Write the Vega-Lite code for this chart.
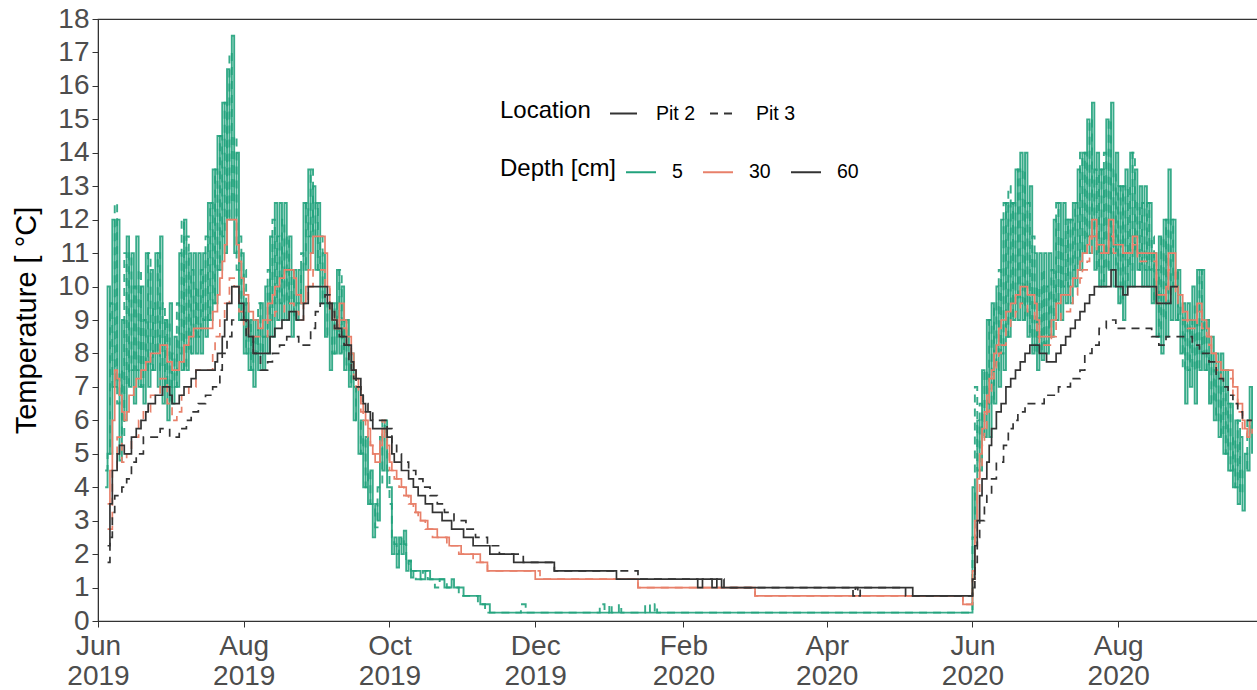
{
"$schema": "https://vega.github.io/schema/vega-lite/v6.json",
"width": 1160, "height": 602,
"autosize": {"type": "none"},
"padding": {"left": 98, "top": 19, "right": 0, "bottom": 69},
"background": "white",
"config": {"font": "Liberation Sans", "view": {"stroke": "#333333", "strokeWidth": 1.2}, "axis": {"grid": false}},
"data": {"values": [
{"date":"2019-06-04","g2":4,"g3":4.5},
{"date":"2019-06-05","g2":10,"g3":5,"r2":3.5,"r3":2.75,"k2":2.25,"k3":1.75},
{"date":"2019-06-06","g2":5,"g3":9.5,"r2":4.5,"k2":3.5,"k3":2.5},
{"date":"2019-06-07","g2":12,"g3":7,"r2":6,"r3":4.5,"k2":4.5,"k3":3.25},
{"date":"2019-06-08","g2":7,"g3":12.5,"r2":7.5,"k3":3.75},
{"date":"2019-06-09","g2":12,"g3":6.5,"r2":7.25,"r3":5.5,"k2":5},
{"date":"2019-06-10","g2":4.8,"g3":7.5,"r2":6.75,"k2":5.25},
{"date":"2019-06-11","g2":9,"g3":5.5,"r2":6.25,"r3":4.75,"k3":4},
{"date":"2019-06-12","g2":6,"g3":11,"r2":6,"k2":5},
{"date":"2019-06-13","g2":11.5,"g3":7,"r2":6.25,"r3":5,"k3":4.25},
{"date":"2019-06-14","g2":7,"g3":11,"r2":6.75},
{"date":"2019-06-15","g2":11,"g3":7.5,"r3":5.5,"k2":5.5,"k3":4.75},
{"date":"2019-06-16","g2":6.5,"g3":10,"r2":7},
{"date":"2019-06-17","g2":11.5,"g3":7.5,"r2":7.25,"k2":5.75,"k3":5},
{"date":"2019-06-18","g2":7,"g3":10.5,"r3":6},
{"date":"2019-06-19","g2":10,"g3":7,"r2":7.5,"k2":6},
{"date":"2019-06-20","g2":6.5,"g3":9,"r3":6.25,"k3":5.5},
{"date":"2019-06-21","g2":11,"g3":7.5,"r2":7.75,"k2":6.25},
{"date":"2019-06-22","g2":7,"g3":11,"k2":6.5},
{"date":"2019-06-23","g2":10.5,"g3":7.5,"r2":8,"r3":6.75},
{"date":"2019-06-24","g2":7.5,"g3":9.5},
{"date":"2019-06-25","g2":11,"g3":8,"k2":6.75},
{"date":"2019-06-26","g2":7,"g3":11},
{"date":"2019-06-27","g2":11.5,"g3":7.5,"r2":8.25,"r3":7.25,"k3":5.75},
{"date":"2019-06-28","g2":6.5,"g3":9.5,"k2":7},
{"date":"2019-06-29","g2":9,"g3":7},
{"date":"2019-06-30","g2":6,"g3":9,"r2":7.75,"r3":6.5},
{"date":"2019-07-01","g2":9.5,"g3":6.5,"k2":6.75,"k3":5.5},
{"date":"2019-07-02","g2":6.5,"g3":8,"r2":7.5,"r3":6,"k2":6.5},
{"date":"2019-07-03","g2":8.5,"g3":7},
{"date":"2019-07-04","g2":7,"g3":9.5,"r3":6.25},
{"date":"2019-07-05","g2":11,"g3":8,"r2":7.75,"k2":6.75,"k3":5.75},
{"date":"2019-07-06","g2":7.5,"g3":12,"r3":6.75},
{"date":"2019-07-07","g2":12,"g3":7.5,"r2":8.25,"k2":7},
{"date":"2019-07-08","g2":7.5,"g3":11.5,"k3":6},
{"date":"2019-07-09","g2":11,"g3":8,"r2":8.5,"r3":7},
{"date":"2019-07-10","g2":8,"g3":10.5,"k2":7.25,"k3":6.25},
{"date":"2019-07-11","g2":11,"g3":8.5,"r2":8.75},
{"date":"2019-07-12","g2":8,"g3":10,"r3":7.5,"k2":7.5},
{"date":"2019-07-13","g2":11,"g3":8.5,"k3":6.5},
{"date":"2019-07-14","g2":8,"g3":10.5},
{"date":"2019-07-15","g2":11,"g3":9},
{"date":"2019-07-16","g2":8.5,"g3":11.5,"k3":6.75},
{"date":"2019-07-17","g2":12.5,"g3":9},
{"date":"2019-07-18","g2":9,"g3":12.5},
{"date":"2019-07-19","g2":13.5,"g3":9.5,"r2":9.25,"r3":8,"k3":7},
{"date":"2019-07-20","g2":9.5,"g3":13.5,"r3":8.5,"k2":7.75},
{"date":"2019-07-21","g2":14.5,"g3":10.5,"r2":9.75,"k2":8},
{"date":"2019-07-22","g2":10.5,"g3":14.5,"r2":10.25,"r3":9,"k3":7.5},
{"date":"2019-07-23","g2":15.5,"g3":11.5,"r2":10.75,"k2":8.5,"k3":8},
{"date":"2019-07-24","g2":11,"g3":15.5,"r2":11.25,"r3":9.5,"k2":9},
{"date":"2019-07-25","g2":16.5,"g3":12,"r2":12,"k2":9.5,"k3":8.5},
{"date":"2019-07-26","g2":12,"g3":17,"r3":10.25},
{"date":"2019-07-27","g2":17.5,"g3":12.5,"k2":10,"k3":9},
{"date":"2019-07-28","g2":11,"g3":14.5,"r3":10},
{"date":"2019-07-29","g2":14,"g3":10.5,"r2":11.25},
{"date":"2019-07-30","g2":9,"g3":11.5,"r2":10.75,"r3":9.25,"k2":9.5},
{"date":"2019-07-31","g2":11,"g3":9,"r2":10.25},
{"date":"2019-08-01","g2":8,"g3":10.5,"r2":9.75,"r3":8.75,"k2":9},
{"date":"2019-08-02","g2":9.5,"g3":8,"k3":8.5},
{"date":"2019-08-03","g2":7.5,"g3":9,"r2":9.25,"r3":8.5,"k2":8.5},
{"date":"2019-08-04","g2":9,"g3":7.5},
{"date":"2019-08-05","g2":7,"g3":8.5,"r2":9,"k2":8,"k3":8},
{"date":"2019-08-06","g2":9,"g3":8},
{"date":"2019-08-07","g2":7.5,"g3":9.5,"r2":8.75},
{"date":"2019-08-08","g2":9.5,"g3":8,"k3":7.5},
{"date":"2019-08-09","g2":7.5,"g3":8.5,"r2":9},
{"date":"2019-08-10","g2":10,"g3":8.5},
{"date":"2019-08-11","g2":8,"g3":10.5,"r2":9.5,"r3":9,"k3":7.75},
{"date":"2019-08-12","g2":11.5,"g3":9,"k2":8.5},
{"date":"2019-08-13","g2":8.5,"g3":12,"r2":9.75,"k3":8},
{"date":"2019-08-14","g2":12.5,"g3":9.5,"r2":10,"r3":9.25,"k2":8.75},
{"date":"2019-08-15","g2":9,"g3":11.5},
{"date":"2019-08-16","g2":12.5,"g3":9.5,"r2":10.25,"k3":8.25},
{"date":"2019-08-17","g2":9,"g3":12,"k2":9},
{"date":"2019-08-18","g2":12.5,"g3":9.5,"r2":10.5,"r3":9.5},
{"date":"2019-08-19","g2":9,"g3":11.5,"k3":8.5},
{"date":"2019-08-20","g2":11.5,"g3":9.5,"k2":9.25},
{"date":"2019-08-21","g2":8.5,"g3":10.5},
{"date":"2019-08-22","g2":10.5,"g3":9,"r2":10.25,"r3":9.25},
{"date":"2019-08-23","g2":9,"g3":9.5,"r2":9.75,"k2":9},
{"date":"2019-08-24","g2":10.5,"g3":9.5,"r3":9,"k3":8.25},
{"date":"2019-08-25","g2":9.5,"g3":11,"r2":9.5},
{"date":"2019-08-26","g2":12.5,"g3":10.5,"r3":9.5,"k2":9.5},
{"date":"2019-08-27","g2":10.5,"g3":12.5,"r2":10},
{"date":"2019-08-28","g2":13.5,"g3":11.5,"r2":10.5,"r3":10,"k2":10},
{"date":"2019-08-29","g2":11,"g3":13.5,"r2":11,"k3":8.75},
{"date":"2019-08-30","g2":13,"g3":11.5,"r2":11.5,"r3":10.5},
{"date":"2019-08-31","g2":10.5,"g3":12.5,"k3":9.25},
{"date":"2019-09-01","g2":12.5,"g3":10.5},
{"date":"2019-09-02","g2":9.5,"g3":11.5,"k3":9.5},
{"date":"2019-09-03","g2":11,"g3":9.5},
{"date":"2019-09-04","g2":8.5,"g3":9.5,"r2":11,"r3":10,"k3":9.75},
{"date":"2019-09-05","g2":9.5,"g3":8.5,"r2":10,"k2":9.5},
{"date":"2019-09-06","g2":7.5,"g3":8.5,"r2":9.5,"r3":9.25,"k3":9.25},
{"date":"2019-09-07","g2":9.5,"g3":8,"r2":9,"k2":9},
{"date":"2019-09-08","g2":8,"g3":9.5,"r3":8.75,"k3":8.75},
{"date":"2019-09-09","g2":10.5,"g3":8.5,"r2":8.75,"k2":8.75},
{"date":"2019-09-10","g2":8,"g3":10.5,"r2":9.5,"r3":9,"k3":8.5},
{"date":"2019-09-11","g2":10,"g3":8,"k2":8.5},
{"date":"2019-09-12","g2":7.5,"g3":9,"r2":9,"r3":8.75,"k3":8.25},
{"date":"2019-09-13","g2":9,"g3":7.5,"r2":8.5,"r3":8.25,"k2":8.25},
{"date":"2019-09-14","g2":7,"g3":8,"k3":7.75},
{"date":"2019-09-15","g2":8,"g3":7,"r2":8,"r3":7.75,"k2":7.75,"k3":7.5},
{"date":"2019-09-16","g2":6,"g3":7,"r2":7.5,"r3":7.25,"k2":7.5,"k3":7.25},
{"date":"2019-09-17","g2":7,"g3":6,"r2":7.25,"r3":7,"k2":7.25,"k3":7},
{"date":"2019-09-18","g2":5,"g3":6,"r2":7,"r3":6.75},
{"date":"2019-09-19","g2":6,"g3":5,"r2":6.5,"r3":6.25,"k2":6.75,"k3":6.75},
{"date":"2019-09-20","g2":4,"g3":5.5,"r2":6.25,"r3":6,"k2":6.5,"k3":6.5},
{"date":"2019-09-21","g2":5.5,"g3":4,"r2":6,"r3":5.75,"k2":6.25},
{"date":"2019-09-22","g2":3.5,"g3":4.5,"r2":5.75,"r3":5.5,"k3":6.25},
{"date":"2019-09-23","g2":4.5,"g3":3.5,"r2":5.25,"r3":5.25,"k2":6},
{"date":"2019-09-24","g2":2.5,"g3":3.5,"r2":5,"r3":5,"k2":5.75,"k3":6},
{"date":"2019-09-25","g2":3.5,"g3":2.8,"r2":4.75},
{"date":"2019-09-26","g2":3,"g3":4},
{"date":"2019-09-27","g2":5.5,"g3":4,"r2":5.25,"r3":5.5},
{"date":"2019-09-28","g2":4.5,"g3":6,"r2":5.75,"r3":6},
{"date":"2019-09-29","g2":6,"g3":5.5,"r3":5.5},
{"date":"2019-09-30","g2":4,"g3":4.5,"r2":5.25,"r3":5,"k2":5.5,"k3":5.75},
{"date":"2019-10-01","g2":4,"g3":3.5,"r2":4.75,"r3":4.5},
{"date":"2019-10-02","g2":2,"g3":2.5,"r2":4.5,"k2":5,"k3":5.25},
{"date":"2019-10-03","g2":2.5,"g3":2.3,"r3":4.25,"k2":4.75},
{"date":"2019-10-04","g2":1.6,"g3":2,"r2":4.25,"k3":5},
{"date":"2019-10-05","g2":2.5,"g3":2.3,"r3":4},
{"date":"2019-10-06","g2":2,"g3":2.5,"r2":4,"k2":4.5,"k3":4.75},
{"date":"2019-10-07","g2":2.7,"g3":2.3,"r3":3.75},
{"date":"2019-10-08","g2":1.5,"g3":1.7,"r2":3.75},
{"date":"2019-10-09","g2":1.8,"g3":1.8,"r3":3.5,"k2":4.25,"k3":4.5},
{"date":"2019-10-10","g2":1.3,"g3":1.5,"r2":3.5},
{"date":"2019-10-11","g2":1.5,"g3":1.5,"r3":3.25,"k2":4},
{"date":"2019-10-12","g2":1.5,"g3":1.25,"r2":3.25,"k3":4.25},
{"date":"2019-10-13","r3":3,"k2":3.75},
{"date":"2019-10-14","g2":1.25,"r2":3},
{"date":"2019-10-15","g3":1.5,"k3":4},
{"date":"2019-10-16","g2":1.5,"r3":2.75,"k2":3.5},
{"date":"2019-10-17","g3":1.25,"r2":2.75},
{"date":"2019-10-18","g2":1.25,"k3":3.75},
{"date":"2019-10-19","r3":2.5,"k2":3.25},
{"date":"2019-10-20","g3":1},
{"date":"2019-10-21","r2":2.5,"k3":3.5},
{"date":"2019-10-22","g3":1.25},
{"date":"2019-10-23","k2":3},
{"date":"2019-10-24","g2":1,"k3":3.25},
{"date":"2019-10-25","g3":1,"r3":2.25},
{"date":"2019-10-26","r2":2.25},
{"date":"2019-10-27","g2":1.25,"k2":2.75},
{"date":"2019-10-28","g2":1,"k3":3},
{"date":"2019-10-30","g3":0.75,"r3":2},
{"date":"2019-10-31","r2":2},
{"date":"2019-11-01","g2":0.75,"k2":2.5},
{"date":"2019-11-02","k3":2.75},
{"date":"2019-11-05","r3":1.75,"k2":2.25},
{"date":"2019-11-06","k3":2.5},
{"date":"2019-11-07","g3":0.5},
{"date":"2019-11-08","g2":0.5,"r2":1.75},
{"date":"2019-11-10","g3":0.25},
{"date":"2019-11-11","r2":1.5,"r3":1.5,"k3":2.25},
{"date":"2019-11-12","g2":0.25,"k2":2},
{"date":"2019-11-16","k3":2},
{"date":"2019-11-22","k2":1.75},
{"date":"2019-11-25","g3":0.5},
{"date":"2019-11-26","k3":1.75},
{"date":"2019-11-27","g3":0.25},
{"date":"2019-12-01","r2":1.25},
{"date":"2019-12-03","r3":1.25},
{"date":"2019-12-09","k2":1.5,"k3":1.5},
{"date":"2019-12-28","g3":0.5},
{"date":"2019-12-30","g3":0.25},
{"date":"2020-01-01","g3":0.5},
{"date":"2020-01-02","g3":0.25},
{"date":"2020-01-04","k2":1.25},
{"date":"2020-01-05","g3":0.5},
{"date":"2020-01-06","g3":0.25},
{"date":"2020-01-13","r2":1,"r3":1,"k3":1.25},
{"date":"2020-01-16","g3":0.5},
{"date":"2020-01-18","g3":0.25},
{"date":"2020-01-20","g3":0.5},
{"date":"2020-01-21","g3":0.25},
{"date":"2020-02-07","k2":1},
{"date":"2020-02-09","k2":1.25},
{"date":"2020-02-13","k2":1},
{"date":"2020-02-15","k2":1.25},
{"date":"2020-02-17","k2":1},
{"date":"2020-02-18","k3":1},
{"date":"2020-03-02","r2":0.75,"r3":0.75},
{"date":"2020-04-12","k3":0.75},
{"date":"2020-04-13","k3":1},
{"date":"2020-04-14","k3":0.75},
{"date":"2020-04-15","k3":1},
{"date":"2020-05-04","k3":0.75},
{"date":"2020-05-07","k2":0.75},
{"date":"2020-05-28","r2":0.5,"r3":0.5},
{"date":"2020-05-31","g2":0.25,"g3":0.25,"r2":0.5,"r3":0.5,"k2":0.75,"k3":0.75},
{"date":"2020-06-01","g2":4,"g3":2.5,"r2":1.5,"r3":1.25,"k2":1.25,"k3":1},
{"date":"2020-06-02","g2":3,"g3":7,"r2":3,"r3":2.5,"k2":2.25,"k3":1.75},
{"date":"2020-06-03","g2":6,"g3":4.5,"r2":4.25,"r3":3.75,"k2":3,"k3":2.5},
{"date":"2020-06-04","g2":4.5,"g3":6.5,"r2":5,"r3":4.5,"k2":3.75,"k3":3},
{"date":"2020-06-05","g2":7.5,"g3":5.5,"r2":5.75,"r3":5.25,"k2":4.25},
{"date":"2020-06-06","g2":5.5,"g3":7.5,"r2":6.25,"r3":5.75,"k3":3.5},
{"date":"2020-06-07","g2":9,"g3":6.5,"r2":6.75,"r3":6.25,"k2":4.75,"k3":3.75},
{"date":"2020-06-08","g2":5.5,"g3":9,"r2":7.25,"r3":6.75,"k2":5.25},
{"date":"2020-06-09","g2":9.5,"g3":6.5,"r2":7.5,"r3":7.25,"k2":5.75,"k3":4.25},
{"date":"2020-06-10","g2":6.5,"g3":9.5,"r2":8,"r3":7.5},
{"date":"2020-06-11","g2":10,"g3":7.5,"r2":8.25,"r3":7.75,"k2":6.25,"k3":4.75},
{"date":"2020-06-12","g2":7,"g3":10.5,"r2":8.75,"r3":8},
{"date":"2020-06-13","g2":12,"g3":8,"r2":9,"r3":8.25,"k2":6.5},
{"date":"2020-06-14","g2":7.5,"g3":12.5,"k3":5.25},
{"date":"2020-06-15","g2":12.5,"g3":8.5,"r2":9.25,"r3":8.75,"k2":7},
{"date":"2020-06-16","g2":8.5,"g3":13,"k3":5.75},
{"date":"2020-06-17","g2":12.5,"g3":9,"r2":9.5,"r3":9,"k2":7.25},
{"date":"2020-06-18","g2":9,"g3":12.5,"k3":6},
{"date":"2020-06-19","g2":13.5,"g3":9.5,"r2":9.75,"r3":9.25,"k2":7.5},
{"date":"2020-06-20","g2":9,"g3":13.5,"k3":6.25},
{"date":"2020-06-21","g2":14,"g3":9.5,"r2":10,"r3":9.5,"k2":7.75},
{"date":"2020-06-22","g2":9,"g3":13.5},
{"date":"2020-06-23","g2":14,"g3":9,"k2":8,"k3":6.5},
{"date":"2020-06-24","g2":8.5,"g3":12.5,"r2":9.75,"r3":9.25},
{"date":"2020-06-25","g2":13,"g3":8.5,"k2":8.25},
{"date":"2020-06-26","g2":8,"g3":11.5},
{"date":"2020-06-27","g2":11,"g3":8,"r2":9.5,"r3":9},
{"date":"2020-06-28","g2":7.5,"g3":10,"r2":9,"r3":8.5},
{"date":"2020-06-29","g2":11,"g3":8,"r2":8.5,"r3":8.25,"k2":8},
{"date":"2020-06-30","g2":7.8,"g3":10.5},
{"date":"2020-07-01","g2":11,"g3":8.3,"k3":6.75},
{"date":"2020-07-02","g2":8,"g3":10,"k2":7.75},
{"date":"2020-07-03","g2":11,"g3":8.5},
{"date":"2020-07-04","g2":8.5,"g3":10.5,"r2":9,"r3":8.5},
{"date":"2020-07-05","g2":12,"g3":9},
{"date":"2020-07-06","g2":9,"g3":12.5,"r2":9.5,"r3":9,"k2":8},
{"date":"2020-07-07","g2":12.5,"g3":9.5,"k3":7},
{"date":"2020-07-08","g2":9,"g3":11.5,"r2":9.75,"r3":9.25,"k2":8.25},
{"date":"2020-07-09","g2":12.5,"g3":10},
{"date":"2020-07-10","g2":9.5,"g3":12,"k2":8.5},
{"date":"2020-07-11","g2":12,"g3":10},
{"date":"2020-07-12","g2":9.5,"g3":12,"r2":10,"r3":9.5,"k2":8.75,"k3":7.25},
{"date":"2020-07-13","g2":12.5,"g3":10.5,"r2":10.25,"r3":9.75},
{"date":"2020-07-14","g2":10,"g3":12.5,"k2":9},
{"date":"2020-07-15","g2":13.5,"g3":10.5,"r2":10.5,"r3":10},
{"date":"2020-07-16","g2":10.5,"g3":14,"r2":10.75,"r3":10.25,"k2":9.25,"k3":7.5},
{"date":"2020-07-17","g2":14,"g3":11,"r2":11,"r3":10.5},
{"date":"2020-07-18","g2":11,"g3":14,"k2":9.5,"k3":8},
{"date":"2020-07-19","g2":15,"g3":11.5,"r2":11.25,"r3":10.75},
{"date":"2020-07-20","g2":11,"g3":15,"r2":11.5,"r3":11,"k2":9.75},
{"date":"2020-07-21","g2":15.5,"g3":11.5,"r2":12,"r3":11.5,"k3":8.25},
{"date":"2020-07-22","g2":10.5,"g3":13.5,"k2":10},
{"date":"2020-07-23","g2":14,"g3":10.5,"r2":11.25,"r3":11},
{"date":"2020-07-24","g2":10,"g3":13.5,"k3":8.75},
{"date":"2020-07-25","g2":13.5,"g3":10},
{"date":"2020-07-26","g2":10,"g3":14,"r2":11},
{"date":"2020-07-27","g2":15,"g3":10.5,"k3":9},
{"date":"2020-07-28","g2":10.5,"g3":15,"r2":12,"r3":11.5},
{"date":"2020-07-29","g2":15.5,"g3":11,"k2":10.5},
{"date":"2020-07-30","g2":10,"g3":13.5,"r2":11.25,"r3":11},
{"date":"2020-07-31","g2":14,"g3":10.5,"k2":10,"k3":8.75},
{"date":"2020-08-01","g2":9.5,"g3":13},
{"date":"2020-08-02","g2":13,"g3":9.5},
{"date":"2020-08-03","g2":9,"g3":13,"r2":11,"k2":9.75},
{"date":"2020-08-04","g2":13.5,"g3":10},
{"date":"2020-08-05","g2":10,"g3":13,"k2":10},
{"date":"2020-08-06","g2":14,"g3":10.5},
{"date":"2020-08-07","g2":10,"g3":14,"r2":11.5,"r3":11.25},
{"date":"2020-08-08","g2":13.5,"g3":11},
{"date":"2020-08-09","g2":10.5,"g3":12.5,"r2":11,"r3":10.75},
{"date":"2020-08-10","g2":13,"g3":10.5},
{"date":"2020-08-11","g2":10,"g3":12.5},
{"date":"2020-08-12","g2":13,"g3":10.5},
{"date":"2020-08-13","g2":10,"g3":12.5},
{"date":"2020-08-14","g2":12.5,"g3":10.5},
{"date":"2020-08-15","g2":9.5,"g3":11.5,"k3":8.5},
{"date":"2020-08-16","g2":11,"g3":9.5},
{"date":"2020-08-17","g2":8.5,"g3":10.5,"r2":9.75,"r3":9.5,"k2":9.5},
{"date":"2020-08-18","g2":11.5,"g3":8.5,"k3":8.25},
{"date":"2020-08-19","g2":8,"g3":11.5},
{"date":"2020-08-20","g2":12,"g3":9},
{"date":"2020-08-21","g2":8.5,"g3":12,"r2":10,"r3":9.75,"k3":8.5},
{"date":"2020-08-22","g2":13.5,"g3":9.5,"r2":11,"r3":10.5},
{"date":"2020-08-23","g2":9,"g3":12,"k2":10},
{"date":"2020-08-24","g2":12,"g3":10},
{"date":"2020-08-25","g2":9,"g3":10.5,"r2":10,"r3":9.75},
{"date":"2020-08-26","g2":10.5,"g3":9,"r2":9.75,"r3":9.5,"k2":10},
{"date":"2020-08-27","g2":8,"g3":9.5},
{"date":"2020-08-28","g2":9.5,"g3":7.5,"r2":9.25,"r3":9},
{"date":"2020-08-29","g2":6.5,"g3":9},
{"date":"2020-08-30","g2":9.5,"g3":7.5,"r2":9,"r3":8.75},
{"date":"2020-08-31","g2":7,"g3":9},
{"date":"2020-09-01","g2":10,"g3":7.5,"k3":8.25},
{"date":"2020-09-02","g2":6.5,"g3":9.5},
{"date":"2020-09-03","g2":10.5,"g3":7.5,"r2":9.5,"r3":9.25},
{"date":"2020-09-04","g2":7.5,"g3":10.5,"k3":8},
{"date":"2020-09-05","g2":10.5,"g3":8,"r2":9,"r3":8.75},
{"date":"2020-09-06","g2":7.5,"g3":9},
{"date":"2020-09-07","g2":9,"g3":7.5,"r2":8.75,"r3":8.5},
{"date":"2020-09-08","g2":6.5,"g3":8,"r2":8.5,"r3":8.25,"k3":7.75},
{"date":"2020-09-09","g2":8.5,"g3":6.5,"r2":8,"r3":8},
{"date":"2020-09-10","g2":6,"g3":7.5},
{"date":"2020-09-11","g2":8,"g3":6,"r2":7.75,"r3":7.5,"k3":7.25},
{"date":"2020-09-12","g2":5.5,"g3":7.5},
{"date":"2020-09-13","g2":8,"g3":5.5,"r2":7.5,"r3":7.25},
{"date":"2020-09-14","g2":5,"g3":7,"k3":7},
{"date":"2020-09-15","g2":7.5,"g3":5},
{"date":"2020-09-16","g2":4.5,"g3":6.5,"k3":6.75},
{"date":"2020-09-17","g2":6.5,"g3":4.5},
{"date":"2020-09-18","g2":4,"g3":5.5,"r2":7,"r3":6.75,"k3":6.5},
{"date":"2020-09-19","g2":6,"g3":4},
{"date":"2020-09-20","g2":3.5,"g3":6,"r2":6.5,"r3":6.25,"k3":6.25},
{"date":"2020-09-21","g2":5.5,"g3":3.8},
{"date":"2020-09-22","g2":3.3,"g3":4.5,"r2":6,"r3":5.75,"k3":6},
{"date":"2020-09-23","g2":5,"g3":4.5,"r2":5.75},
{"date":"2020-09-24","g2":4.5,"g3":6,"r2":5.5,"r3":5.5},
{"date":"2020-09-25","g2":7,"g3":5.5,"r2":6},
{"date":"2020-09-26","g2":5,"g3":5.5,"r2":6,"r3":5.75,"k3":6}
]},
"transform": [
{"fold": ["g2","g3","r2","r3","k2","k3"], "as": ["series","temp"]},
{"filter": "isValid(datum.temp)"},
{"lookup": "series", "from": {"data": {"values": [
{"series":"g2","depth":"5","loc":"Pit 2"},
{"series":"g3","depth":"5","loc":"Pit 3"},
{"series":"r2","depth":"30","loc":"Pit 2"},
{"series":"r3","depth":"30","loc":"Pit 3"},
{"series":"k2","depth":"60","loc":"Pit 2"},
{"series":"k3","depth":"60","loc":"Pit 3"}
]}, "key": "series", "fields": ["depth","loc"]}}
],
"encoding": {
"x": {"field": "date", "type": "temporal",
  "scale": {"type": "utc", "domain": [{"year":2019,"month":6,"date":1,"utc":true},{"year":2020,"month":9,"date":28,"hours":12,"utc":true}]},
  "axis": {"title": null,
    "values": [{"year":2019,"month":6,"date":1,"utc":true},{"year":2019,"month":8,"date":1,"utc":true},{"year":2019,"month":10,"date":1,"utc":true},{"year":2019,"month":12,"date":1,"utc":true},{"year":2020,"month":2,"date":1,"utc":true},{"year":2020,"month":4,"date":1,"utc":true},{"year":2020,"month":6,"date":1,"utc":true},{"year":2020,"month":8,"date":1,"utc":true}],
    "labelExpr": "[utcFormat(datum.value, '%b'), utcFormat(datum.value, '%Y')]",
    "labelFontSize": 28, "labelColor": "#4d4d4d", "labelLineHeight": 30, "labelPadding": 5,
    "tickColor": "#333333", "tickSize": 6, "domainColor": "#333333", "labelFlush": false, "labelOverlap": false}},
"y": {"field": "temp", "type": "quantitative",
  "scale": {"domain": [0, 18], "nice": false},
  "axis": {"title": "Temperature [ °C]", "values": [0,1,2,3,4,5,6,7,8,9,10,11,12,13,14,15,16,17,18],
    "labelFontSize": 28, "labelColor": "#4d4d4d", "labelPadding": 3, "tickColor": "#333333", "tickSize": 6,
    "domainColor": "#333333", "titleFontSize": 29, "titleFontWeight": "normal", "titleColor": "#000000", "titlePadding": 16, "labelOverlap": false}},
"color": {"field": "depth", "type": "nominal",
  "scale": {"domain": ["5","30","60"], "range": ["#21a27c","#e8806a","#333333"]},
  "legend": {"title": "Depth [cm]", "orient": "none", "legendX": 402, "legendY": 137, "direction": "horizontal", "titleOrient": "left",
    "titleFontSize": 24, "titleFontWeight": "normal", "titleColor": "#000000", "titlePadding": 8,
    "labelFontSize": 19.5, "labelColor": "#000000", "labelOffset": 15, "columnPadding": 16,
    "symbolType": "stroke", "symbolSize": 900, "symbolStrokeWidth": 2}},
"strokeDash": {"field": "loc", "type": "nominal",
  "scale": {"domain": ["Pit 2","Pit 3"], "range": [[1,0],[8,6]]},
  "legend": {"title": "Location", "orient": "none", "legendX": 402, "legendY": 80, "direction": "horizontal", "titleOrient": "left",
    "titleFontSize": 24, "titleFontWeight": "normal", "titleColor": "#000000", "titlePadding": 18,
    "labelFontSize": 19.5, "labelColor": "#000000", "labelOffset": 18, "columnPadding": 10,
    "symbolType": "stroke", "symbolSize": 729, "symbolStrokeWidth": 2, "symbolStrokeColor": "#333333"}}
},
"layer": [
{"transform": [{"filter": "datum.depth == '5'"}], "mark": {"type": "line", "interpolate": "step-after", "strokeWidth": 1.9, "strokeOpacity": 0.9}},
{"transform": [{"filter": "datum.depth != '5'"}], "mark": {"type": "line", "interpolate": "step-after", "strokeWidth": 1.7}}
]
}
